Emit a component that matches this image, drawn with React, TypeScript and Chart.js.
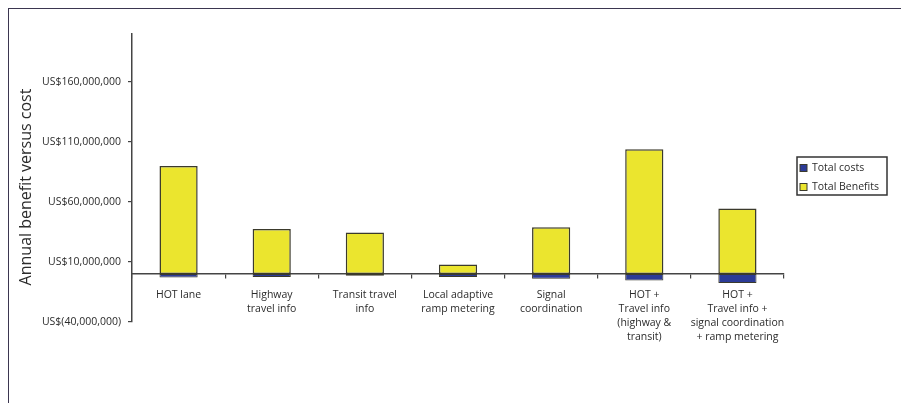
import { useEffect, useRef } from "react";
import { Chart, registerables } from "chart.js";

Chart.register(...registerables);

// Category labels (multi-line)
const categories: string[][] = [
  ["HOT lane"],
  ["Highway", "travel info"],
  ["Transit travel", "info"],
  ["Local adaptive", "ramp metering"],
  ["Signal", "coordination"],
  ["HOT +", "Travel info", "(highway &", "transit)"],
  ["HOT +", "Travel info +", "signal coordination", "+ ramp metering"],
];

// Annual values in US$
const totalCosts = [-3000000, -2500000, -1500000, -2500000, -4000000, -5500000, -7500000];
const totalBenefits = [90000000, 37500000, 34500000, 8000000, 39000000, 104000000, 54500000];

// Value axis
const yTickValues = [-40000000, 10000000, 60000000, 110000000, 160000000];
const yMin = -40000000;
const yMax = 200000000;

const seriesNames = ["Total costs", "Total Benefits"];
const seriesColors = ["#2c3b96", "#ebe52e"];
const axisTitle = "Annual benefit versus cost";

const FONT = "'Open Sans', sans-serif";
const INK = "#2b2b2b";
const OUTLINE = "#3b3a2c";

const formatUsd = (v: number) => {
  const s = Math.abs(v).toLocaleString("en-US");
  return v < 0 ? `US$(${s})` : `US$${s}`;
};

// Rotated value-axis title
const axisTitlePlugin = {
  id: "axisTitle",
  afterDraw(chart: any) {
    const { ctx } = chart;
    ctx.save();
    ctx.translate(17, 178);
    ctx.rotate(-Math.PI / 2);
    ctx.font = `16px ${FONT}`;
    ctx.fillStyle = INK;
    ctx.textAlign = "center";
    ctx.textBaseline = "middle";
    ctx.fillText(axisTitle, 0, 0);
    ctx.restore();
  },
};

// Framed legend to the right of the plot
const boxedLegendPlugin = {
  id: "boxedLegend",
  afterDraw(chart: any) {
    const { ctx } = chart;
    const x = 788;
    const y = 148;
    const w = 90;
    const h = 38;
    ctx.save();
    ctx.strokeStyle = "#333";
    ctx.lineWidth = 1.5;
    ctx.strokeRect(x, y, w, h);
    ctx.font = `10.5px ${FONT}`;
    ctx.textBaseline = "middle";
    ctx.textAlign = "left";
    chart.data.datasets.forEach((ds: any, i: number) => {
      const cy = y + 11 + i * 19;
      ctx.fillStyle = ds.backgroundColor;
      ctx.fillRect(x + 3, cy - 3.5, 7, 7);
      ctx.strokeStyle = OUTLINE;
      ctx.lineWidth = 1;
      ctx.strokeRect(x + 3, cy - 3.5, 7, 7);
      ctx.fillStyle = INK;
      ctx.fillText(ds.label, x + 15, cy);
    });
    ctx.restore();
  },
};

export default function App() {
  const canvasRef = useRef<HTMLCanvasElement | null>(null);

  useEffect(() => {
    if (!canvasRef.current) return;
    const chart = new Chart(canvasRef.current, {
      type: "bar",
      data: {
        labels: categories,
        datasets: [
          {
            label: seriesNames[0],
            data: totalCosts,
            backgroundColor: seriesColors[0],
            borderColor: OUTLINE,
            borderWidth: 1,
            borderSkipped: false,
          },
          {
            label: seriesNames[1],
            data: totalBenefits,
            backgroundColor: seriesColors[1],
            borderColor: OUTLINE,
            borderWidth: 1.5,
            borderSkipped: false,
          },
        ],
      },
      options: {
        responsive: false,
        animation: false,
        layout: { padding: { top: 25, bottom: 81, right: 117, left: 0 } },
        datasets: { bar: { categoryPercentage: 1, barPercentage: 0.41 } },
        plugins: { legend: { display: false }, tooltip: { enabled: false } },
        scales: {
          x: {
            stacked: true,
            position: { y: 0 },
            grid: {
              drawOnChartArea: false,
              drawTicks: true,
              tickLength: 4,
              offset: true,
              color: "#444",
              lineWidth: 1.2,
            },
            border: { display: true, color: "#444", width: 1.5 },
            ticks: {
              autoSkip: false,
              maxRotation: 0,
              padding: 10,
              color: INK,
              font: { family: FONT, size: 10.5, lineHeight: 1.333 },
            },
          },
          y: {
            stacked: true,
            min: yMin,
            max: yMax,
            afterBuildTicks: (scale: any) => {
              scale.ticks = yTickValues.map((v) => ({ value: v }));
            },
            afterFit: (scale: any) => {
              scale.width = 123;
            },
            grid: {
              drawOnChartArea: false,
              drawTicks: true,
              tickLength: 4,
              color: "#444",
              lineWidth: 1.2,
            },
            border: { display: true, color: "#444", width: 1.5 },
            ticks: {
              autoSkip: false,
              padding: 7,
              color: INK,
              font: { family: FONT, size: 10.5 },
              callback: (v: any) => formatUsd(Number(v)),
            },
          },
        },
      },
      plugins: [axisTitlePlugin, boxedLegendPlugin],
    } as any);
    return () => chart.destroy();
  }, []);

  return (
    <div
      style={{
        position: "fixed",
        left: 8,
        top: 8,
        width: 893,
        height: 395,
        borderTop: "1px solid #3b3650",
        borderLeft: "1px solid #3b3650",
        background: "#fff",
        overflow: "hidden",
      }}
    >
      <canvas ref={canvasRef} width={892} height={394} style={{ display: "block" }} />
    </div>
  );
}
